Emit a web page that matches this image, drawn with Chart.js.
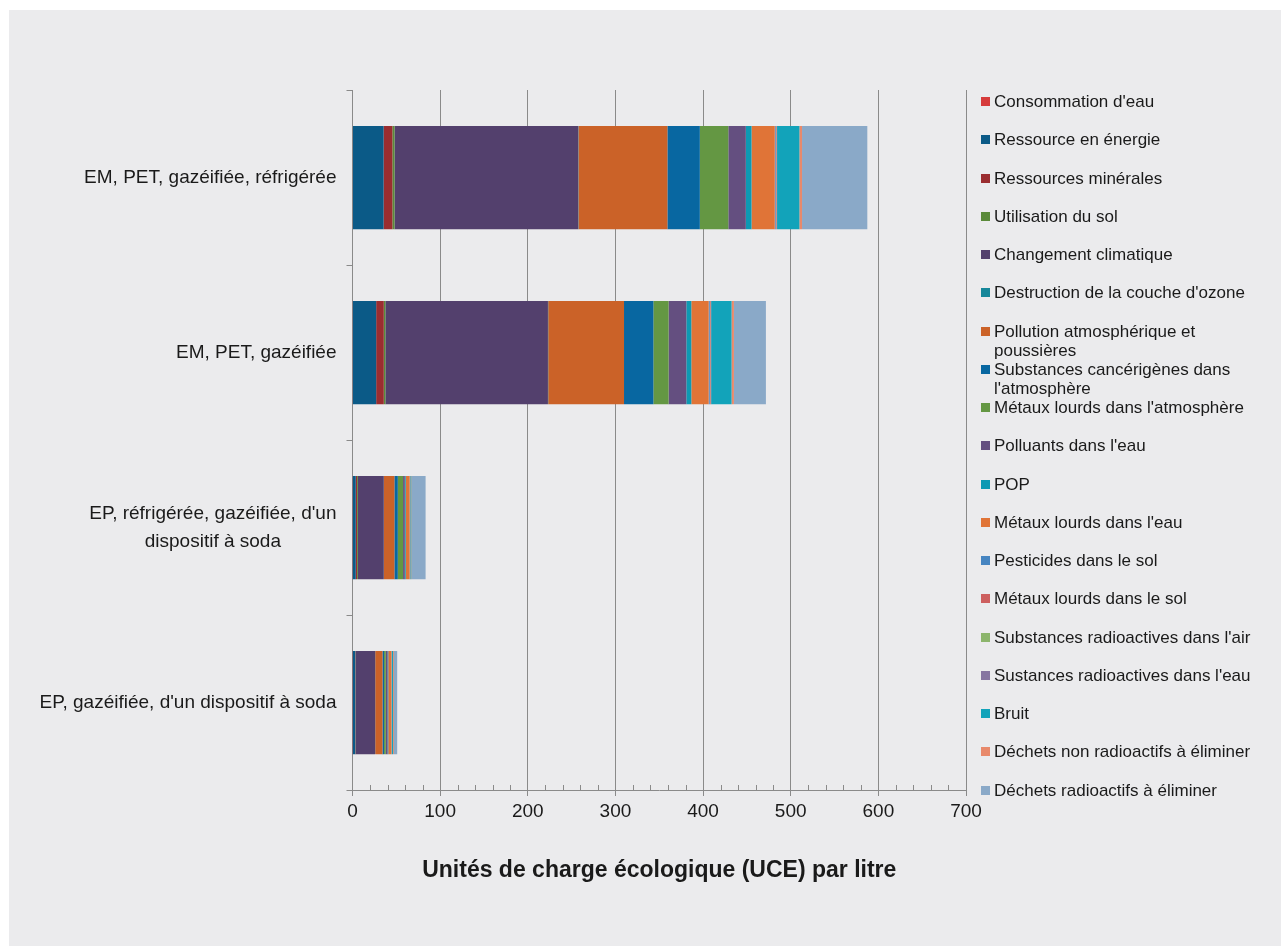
<!DOCTYPE html>
<html>
<head>
<meta charset="utf-8">
<script src="https://cdn.jsdelivr.net/npm/chart.js@4/dist/chart.umd.min.js"></script>
<style>
  body { margin: 0; background: #fff; width: 1281px; height: 946px; overflow: hidden; font-family: "Liberation Sans", Arial, sans-serif; }
  #panel { position: absolute; left: 9px; top: 10px; right: 0; bottom: 0; background: #ebebed; }
  #wrap { position: absolute; left: 0; top: 0; width: 1281px; height: 946px; }
  #legend { position: absolute; left: 981px; top: 92px; font-size: 17px; color: #1a1a1a; }
  #legend .item { position: relative; height: 38.25px; line-height: 19.5px; padding-left: 13px; white-space: nowrap; }
  #legend .box { position: absolute; left: 0; top: 5px; width: 9px; height: 9px; }
</style>
</head>
<body>
<div id="panel"></div>
<div id="wrap"><canvas id="myChart"></canvas></div>
<div id="legend"></div>
<script>
// categories, top to bottom
var categories = [
  ['EM, PET, gazéifiée, réfrigérée'],
  ['EM, PET, gazéifiée'],
  ["EP, réfrigérée, gazéifiée, d'un", 'dispositif à soda'],
  ["EP, gazéifiée, d'un dispositif à soda"]
];

var seriesNames = [
  "Consommation d'eau",
  'Ressource en énergie',
  'Ressources minérales',
  'Utilisation du sol',
  'Changement climatique',
  "Destruction de la couche d'ozone",
  'Pollution atmosphérique et poussières',
  "Substances cancérigènes dans l'atmosphère",
  "Métaux lourds dans l'atmosphère",
  "Polluants dans l'eau",
  'POP',
  "Métaux lourds dans l'eau",
  'Pesticides dans le sol',
  'Métaux lourds dans le sol',
  "Substances radioactives dans l'air",
  "Sustances radioactives dans l'eau",
  'Bruit',
  'Déchets non radioactifs à éliminer',
  'Déchets radioactifs à éliminer'
];

// legend text as it wraps in the picture
var legendLines = [
  ["Consommation d'eau"], ['Ressource en énergie'], ['Ressources minérales'], ['Utilisation du sol'],
  ['Changement climatique'], ["Destruction de la couche d'ozone"], ['Pollution atmosphérique et', 'poussières'],
  ['Substances cancérigènes dans', "l'atmosphère"], ["Métaux lourds dans l'atmosphère"], ["Polluants dans l'eau"],
  ['POP'], ["Métaux lourds dans l'eau"], ['Pesticides dans le sol'], ['Métaux lourds dans le sol'],
  ["Substances radioactives dans l'air"], ["Sustances radioactives dans l'eau"], ['Bruit'],
  ['Déchets non radioactifs à éliminer'], ['Déchets radioactifs à éliminer']
];

// UCE par litre, one value per series (same order as seriesNames)
var emPetRefr  = [0.5, 35, 10, 2.5, 209.5, 0.3, 101.5, 37, 32.5, 20, 6.5, 26.5, 1, 1, 0.3, 0.3, 25.5, 3, 74.5];
var emPet      = [0.4, 26.6, 8.7, 1.8, 185.5, 0.3, 86.5, 33.5, 17.4, 20.2, 5.7, 19.8, 1.2, 1, 0.3, 0.3, 23.3, 2.7, 36.5];
var epRefrSoda = [0.2, 3.5, 1.5, 1, 29.5, 0.1, 12, 3.9, 6, 2, 1, 4.5, 0.3, 0.3, 0.1, 0.1, 1.2, 0.6, 15.6];
var epSoda     = [0.1, 3, 0.3, 0.2, 22.2, 0.1, 8.3, 1.8, 2, 2, 0.8, 3.5, 0.2, 0.2, 0.05, 0.05, 1.5, 1, 3.7];

var xTicks = [0, 100, 200, 300, 400, 500, 600, 700];
var minorStep = 20;

var colors = ['#d63b3b', '#0b5a87', '#9a2d30', '#5a8a3a', '#53406d', '#16879a', '#cb6228', '#0867a1', '#649743',
  '#644f80', '#0d99b3', '#e07437', '#4685c1', '#cd5f5f', '#8cb56c', '#8675a1', '#12a3ba', '#e8896b', '#8aa9c8'];

var rows = [emPetRefr, emPet, epRefrSoda, epSoda];
var axisGrey = '#8a8a8a';
var textCol = '#1a1a1a';
var font = '"Liberation Sans", Arial, sans-serif';

// y labels drawn by hand: block right aligned, lines centred (like the source)
var yLabelPlugin = {
  id: 'yLabels',
  afterDraw: function(chart) {
    var ctx = chart.ctx, ys = chart.scales.y, xs = chart.scales.x;
    ctx.save();
    ctx.font = '19px ' + font;
    ctx.fillStyle = textCol;
    ctx.textAlign = 'center';
    ctx.textBaseline = 'middle';
    var right = ys.right - 16;
    categories.forEach(function(lines, i) {
      var cy = ys.getPixelForValue(i);
      var w = Math.max.apply(null, lines.map(function(l) { return ctx.measureText(l).width; }));
      var lh = 28;
      lines.forEach(function(l, j) {
        ctx.fillText(l, right - w / 2, cy + (j - (lines.length - 1) / 2) * lh);
      });
    });
    // minor ticks on the x axis
    ctx.strokeStyle = axisGrey;
    ctx.lineWidth = 1;
    ctx.beginPath();
    for (var v = xs.min; v <= xs.max; v += minorStep) {
      if (v % 100 === 0) continue;
      var px = Math.round(xs.getPixelForValue(v)) + 0.5;
      ctx.moveTo(px, xs.top - 5);
      ctx.lineTo(px, xs.top);
    }
    ctx.stroke();
    ctx.restore();
  }
};

var ctx = document.getElementById('myChart').getContext('2d');
var chart = new Chart(ctx, {
  type: 'bar',
  data: {
    labels: categories.map(function(c) { return c.join(' '); }),
    datasets: seriesNames.map(function(name, k) {
      return {
        label: name,
        backgroundColor: colors[k],
        borderWidth: 0,
        data: rows.map(function(r) { return r[k]; }),
        categoryPercentage: 1,
        barPercentage: 0.59
      };
    })
  },
  options: {
    indexAxis: 'y',
    responsive: true,
    maintainAspectRatio: false,
    animation: false,
    layout: { padding: { top: 90, right: 315, left: 0, bottom: 0 } },
    plugins: { legend: { display: false }, tooltip: { enabled: false } },
    scales: {
      x: {
        stacked: true,
        min: 0,
        max: 700,
        afterFit: function(s) { s.height = 156; },
        afterBuildTicks: function(s) { s.ticks = xTicks.map(function(v) { return { value: v }; }); },
        grid: { color: axisGrey, lineWidth: 1, tickLength: 6 },
        border: { color: axisGrey },
        ticks: { color: textCol, font: { size: 19, family: font }, padding: 4 },
        title: {
          display: true,
          text: 'Unités de charge écologique (UCE) par litre',
          color: textCol,
          font: { size: 23, weight: 'bold', family: font },
          padding: { top: 0, bottom: 62 }
        }
      },
      y: {
        stacked: true,
        afterFit: function(s) { s.width = 352.5; },
        grid: { drawOnChartArea: false, color: axisGrey, tickLength: 6, offset: true },
        border: { color: axisGrey },
        ticks: { color: 'rgba(0,0,0,0)', font: { size: 17, family: font } }
      }
    }
  },
  plugins: [yLabelPlugin]
});

// legend in html, built from the series lists
var lg = document.getElementById('legend');
seriesNames.forEach(function(name, k) {
  var it = document.createElement('div');
  it.className = 'item';
  var b = document.createElement('span');
  b.className = 'box';
  b.style.background = colors[k];
  it.appendChild(b);
  legendLines[k].forEach(function(l, j) {
    if (j) it.appendChild(document.createElement('br'));
    it.appendChild(document.createTextNode(l));
  });
  lg.appendChild(it);
});
</script>
</body>
</html>
